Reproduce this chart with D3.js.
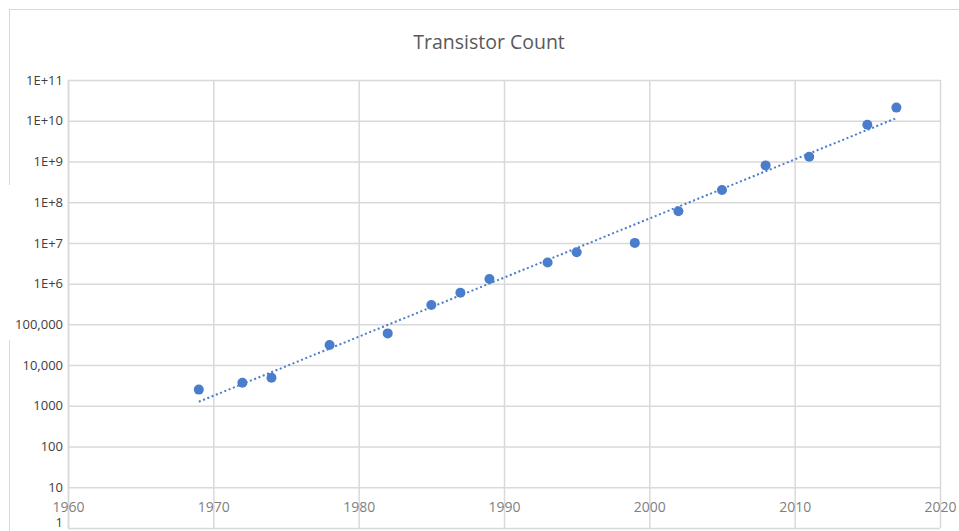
<!DOCTYPE html>
<html>
<head>
<meta charset="utf-8">
<script src="https://cdn.jsdelivr.net/npm/d3@7"></script>
<style>
  body { margin: 0; background: #fff; }
  text { font-family: "Open Sans", sans-serif; }
</style>
</head>
<body>
<div id="Container"></div>
<script>
// data
var years  = [1969, 1972, 1974, 1978, 1982, 1985, 1987, 1989, 1993, 1995, 1999, 2002, 2005, 2008, 2011, 2015, 2017];
var counts = [2500, 3700, 4900, 31000, 60000, 300000, 600000, 1300000, 3300000, 5900000, 10000000,
              60000000, 200000000, 800000000, 1300000000, 8000000000, 21000000000];
var yTicks = [1, 10, 100, 1000, 1e4, 1e5, 1e6, 1e7, 1e8, 1e9, 1e10, 1e11];
var yLabels = ["1", "10", "100", "1000", "10,000", "100,000", "1E+6", "1E+7", "1E+8", "1E+9", "1E+10", "1E+11"];
var xTicks = [1960, 1970, 1980, 1990, 2000, 2010, 2020];
var judul = "Transistor Count";

var margin = { top: 80, right: 19, bottom: 3, left: 68 }
    W = 959, H = 531
    w = W - margin.left - margin.right
    h = H - margin.top - margin.bottom
    canvas = d3.select("#Container").append("svg")
        .attr("width", W)
        .attr("height", H)

var blue = "#4a7dcc";
var grid = "#d9d9d9";

// chart border
canvas.append("rect")
    .attr("x", 9.5).attr("y", 9.5)
    .attr("width", 960).attr("height", 530)
    .attr("fill", "none")
    .attr("stroke", grid);
// white patch over the left border, as in the screenshot
canvas.append("rect")
    .attr("x", 0).attr("y", 185)
    .attr("width", 30).attr("height", 155)
    .attr("fill", "#fff");

var svg = canvas.append("g")
    .attr("transform", "translate(" + margin.left + "," + margin.top + ")");

canvas.append("text")
    .text(judul)
    .attr("x", 489)
    .attr("y", 49)
    .attr("text-anchor", "middle")
    .attr("font-size", 19.5)
    .attr("fill", "#595959");

var x = d3.scaleLinear().domain([1960, 2020]).range([0, w]);
var y = d3.scaleLog().domain([1, 1e11]).range([h, 0]);

// horizontal gridlines
svg.append("g")
    .attr("class", "hgrid")
    .call(d3.axisLeft(y).tickValues(yTicks).tickSize(-w).tickFormat(""))
    .call(function (g) { g.select(".domain").remove(); })
    .selectAll("line")
    .attr("stroke", grid)
    .attr("stroke-width", 1.5);

// vertical gridlines
svg.append("g")
    .attr("class", "vgrid")
    .attr("transform", "translate(0," + h + ")")
    .call(d3.axisBottom(x).tickValues(xTicks).tickSize(-h).tickFormat(""))
    .call(function (g) { g.select(".domain").remove(); })
    .selectAll("line")
    .attr("stroke", grid)
    .attr("stroke-width", 1.5);

// y axis labels
svg.append("g")
    .attr("class", "yax")
    .call(d3.axisLeft(y).tickValues(yTicks).tickSize(0).tickPadding(5)
        .tickFormat(function (d, i) { return yLabels[i]; }))
    .call(function (g) {
        g.select(".domain").attr("stroke", grid).attr("stroke-width", 1.5);
    })
    .selectAll("text")
    .attr("font-size", 13)
    .attr("fill", "#404040")
    .attr("y", function (d) { return d === 1 ? -6 : 0; });

// x axis labels sit just under the "10" gridline
svg.append("g")
    .attr("class", "xax")
    .attr("transform", "translate(0," + y(10) + ")")
    .call(d3.axisBottom(x).tickValues(xTicks).tickSize(0).tickFormat(d3.format("d")))
    .call(function (g) { g.select(".domain").remove(); })
    .selectAll("text")
    .attr("y", 20)
    .attr("dy", "0.35em")
    .attr("font-size", 14)
    .attr("fill", "#7f7f7f");

// exponential trendline (least squares on log10)
var lx = years, ly = counts.map(function (d) { return Math.log10(d); });
var mx = d3.mean(lx), my = d3.mean(ly);
var slope = d3.sum(lx, function (d, i) { return (d - mx) * (ly[i] - my); }) /
            d3.sum(lx, function (d) { return (d - mx) * (d - mx); });
var icpt = my - slope * mx;
var tr = d3.extent(years).map(function (yr) { return { yr: yr, v: Math.pow(10, icpt + slope * yr) }; });

svg.append("path")
    .datum(tr)
    .attr("d", d3.line().x(function (d) { return x(d.yr); }).y(function (d) { return y(d.v); }))
    .attr("fill", "none")
    .attr("stroke", blue)
    .attr("stroke-width", 2)
    .attr("stroke-dasharray", "2,2.6");

svg.selectAll("circle.dot")
    .data(years)
    .enter()
    .append("circle")
        .attr("class", "dot")
        .attr("cx", function (d) { return x(d); })
        .attr("cy", function (d, i) { return y(counts[i]); })
        .attr("r", 5)
        .attr("fill", blue);
</script>
</body>
</html>
